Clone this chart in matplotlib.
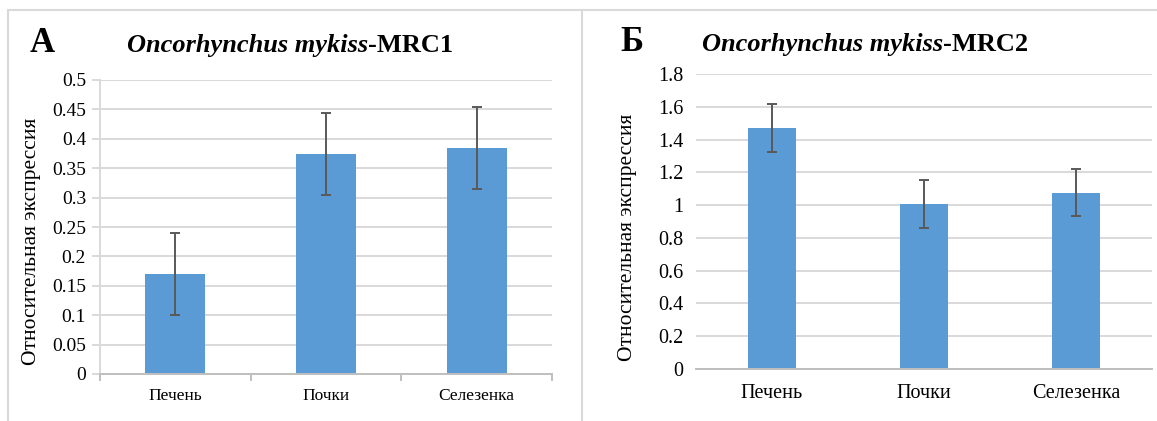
import matplotlib
matplotlib.use("Agg")
import matplotlib.pyplot as plt
from matplotlib.lines import Line2D
import numpy as np

# data
tissues = ["Печень", "Почки", "Селезенка"]
mrc1_values = [0.170, 0.374, 0.384]
mrc1_errors = [0.070, 0.070, 0.070]
mrc2_values = [1.469, 1.007, 1.076]
mrc2_errors = [0.145, 0.145, 0.145]
mrc1_ticks = [0, 0.05, 0.1, 0.15, 0.2, 0.25, 0.3, 0.35, 0.4, 0.45, 0.5]
mrc1_ticklabels = ["0", "0.05", "0.1", "0.15", "0.2", "0.25", "0.3", "0.35", "0.4", "0.45", "0.5"]
mrc2_ticks = [0, 0.2, 0.4, 0.6, 0.8, 1.0, 1.2, 1.4, 1.6, 1.8]
mrc2_ticklabels = ["0", "0.2", "0.4", "0.6", "0.8", "1", "1.2", "1.4", "1.6", "1.8"]

SERIF = ["Liberation Serif", "DejaVu Serif"]
plt.rcParams["font.family"] = SERIF

BAR = "#5B9BD5"
GRID = "#D9D9D9"
AXIS = "#BFBFBF"
ERR = "#595959"
W, H = 1157, 421

fig = plt.figure(figsize=(W / 100, H / 100), dpi=100)


def px_box(x0, y0, x1, y1):
    return [x0 / W, 1 - y1 / H, (x1 - x0) / W, (y1 - y0) / H]


ax1 = fig.add_axes(px_box(100, 80, 552, 374))
ax2 = fig.add_axes(px_box(696, 74, 1152, 369))

x = np.arange(len(tissues))

# left panel
ax1.bar(x, mrc1_values, width=0.4, color=BAR, zorder=2)
ax1.errorbar(x, mrc1_values, yerr=mrc1_errors, fmt="none", ecolor=ERR,
             elinewidth=1.4, capsize=3.3, capthick=1.4, zorder=3)
ax1.set_xlim(-0.5, 2.5)
ax1.set_ylim(0, 0.5)
ax1.set_yticks(mrc1_ticks)
ax1.set_yticklabels(mrc1_ticklabels, fontsize=14)
ax1.yaxis.grid(True, color=GRID, linewidth=1.4, zorder=0)
ax1.tick_params(axis="y", length=6, width=1.4, color=GRID, pad=4)
ax1.set_xticks(x)
ax1.set_xticklabels(tissues, fontsize=12.5)
ax1.set_xticks([-0.5, 0.5, 1.5, 2.5], minor=True)
ax1.tick_params(axis="x", which="major", length=0, pad=10)
ax1.tick_params(axis="x", which="minor", length=5, width=1.4, color=AXIS)
for s in ["top", "right"]:
    ax1.spines[s].set_visible(False)
ax1.spines["left"].set_color(GRID)
ax1.spines["left"].set_linewidth(1.4)
ax1.spines["bottom"].set_color(AXIS)
ax1.spines["bottom"].set_linewidth(1.4)
ax1.set_ylabel("Относительная экспрессия", fontsize=15.5)
ax1.yaxis.set_label_coords(-0.1305, 0.45)
ax1.set_axisbelow(True)

# right panel
ax2.bar(x, mrc2_values, width=0.32, color=BAR, zorder=2)
ax2.errorbar(x, mrc2_values, yerr=mrc2_errors, fmt="none", ecolor=ERR,
             elinewidth=1.4, capsize=3.3, capthick=1.4, zorder=3)
ax2.set_xlim(-0.5, 2.5)
ax2.set_ylim(0, 1.8)
ax2.set_yticks(mrc2_ticks)
ax2.set_yticklabels(mrc2_ticklabels, fontsize=14.5)
ax2.yaxis.grid(True, color=GRID, linewidth=1.4, zorder=0)
ax2.tick_params(axis="y", length=0, pad=9)
ax2.set_xticks(x)
ax2.set_xticklabels(tissues, fontsize=14.5)
ax2.tick_params(axis="x", length=0, pad=11)
for s in ["top", "right", "left"]:
    ax2.spines[s].set_visible(False)
ax2.spines["bottom"].set_color(AXIS)
ax2.spines["bottom"].set_linewidth(1.4)
ax2.set_ylabel("Относительная экспрессия", fontsize=15.5)
ax2.yaxis.set_label_coords(-0.129, 0.447)
ax2.set_axisbelow(True)

# panel letters and titles (italic species + bold gene)
renderer = fig.canvas.get_renderer()


def title(x0, base_y, letter, lx, gene):
    fig.text(lx / W, 1 - base_y / H, letter, fontsize=25, fontweight="bold",
             va="baseline", ha="left")
    t = fig.text(x0 / W, 1 - base_y / H, "Oncorhynchus mykiss", fontsize=19,
                 fontweight="bold", fontstyle="italic", va="baseline", ha="left")
    bb = t.get_window_extent(renderer)
    fig.text(bb.x1 / W, 1 - base_y / H, "-" + gene, fontsize=19,
             fontweight="bold", va="baseline", ha="left")


title(127, 52, "А", 30, "MRC1")
title(702, 51, "Б", 620, "MRC2")

# panel frame lines
frame = dict(color=GRID, linewidth=1.5, transform=fig.transFigure)
fig.add_artist(Line2D([8 / W, 1], [1 - 10 / H, 1 - 10 / H], **frame))
fig.add_artist(Line2D([8 / W, 8 / W], [0, 1 - 10 / H], **frame))
fig.add_artist(Line2D([582 / W, 582 / W], [0, 1 - 10 / H], **frame))

fig.savefig("out.png", dpi=100)
